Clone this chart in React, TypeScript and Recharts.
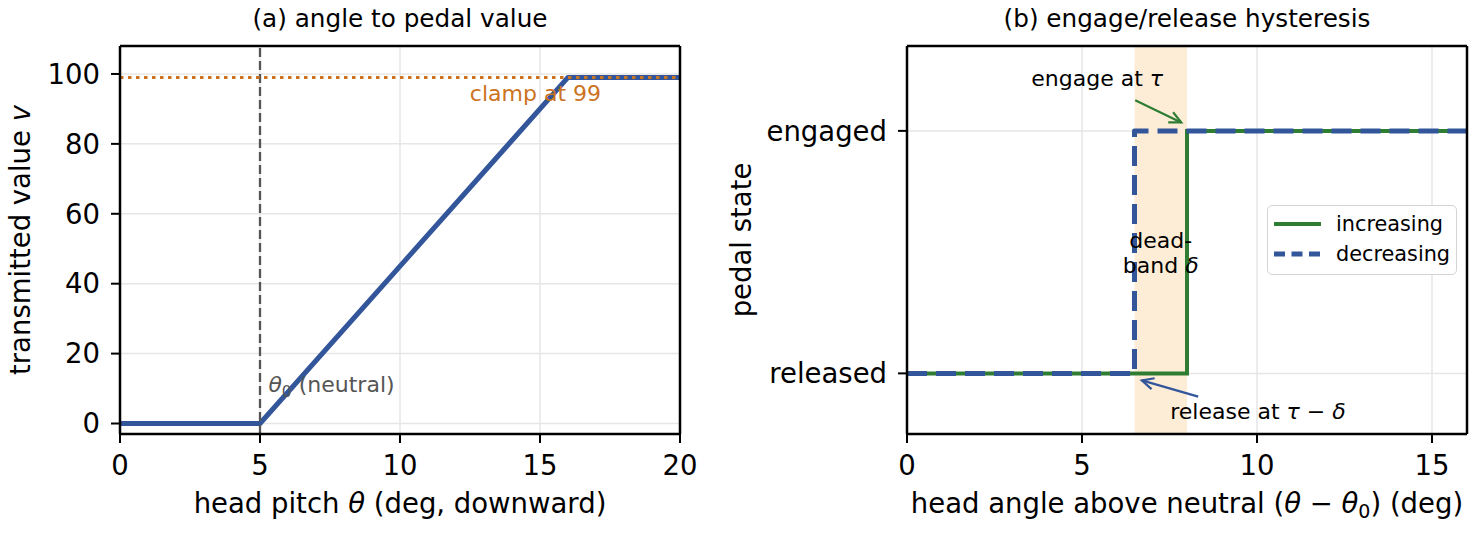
import {
  LineChart, Line, XAxis, YAxis, CartesianGrid, ReferenceLine,
  ReferenceArea, ReferenceDot, Legend,
} from 'recharts';

// panel (a): transmitted value against head pitch
const THETA = [0, 5, 16, 20];
const VALUE = [0, 0, 99, 99];
const A_X_DOMAIN = [0, 20];
const A_Y_DOMAIN = [-3, 108];
const A_X_TICKS = [0, 5, 10, 15, 20];
const A_Y_TICKS = [0, 20, 40, 60, 80, 100];
const NEUTRAL = 5;
const CLAMP = 99;

// panel (b): hysteresis, increasing and decreasing sweeps
const SERIES = ['increasing', 'decreasing'];
const INC_X = [0, 8, 8, 16];
const INC_Y = [0, 0, 1, 1];
const DEC_X = [0, 6.5, 6.5, 16];
const DEC_Y = [0, 0, 1, 1];
const B_X_DOMAIN = [0, 16];
const B_Y_DOMAIN = [-0.25, 1.35];
const B_X_TICKS = [0, 5, 10, 15];
const STATE_TICKS = [0, 1];
const STATE_LABELS = ['released', 'engaged'];
const TAU = 8;
const DELTA = 1.5;

const FONT = 'DejaVu Sans';
const BLUE = '#33569b';
const GREEN = '#2e7d32';
const ORANGE = '#cc7322';
const GREY = '#555555';

const dataA = THETA.map((x, i) => ({ x, v: VALUE[i] }));
const dataInc = INC_X.map((x, i) => ({ x, s: INC_Y[i] }));
const dataDec = DEC_X.map((x, i) => ({ x, s: DEC_Y[i] }));

const tickStyle = { fontSize: 27.5, fill: '#000', fontFamily: FONT };
const axisLine = { stroke: '#000', strokeWidth: 2.5 };
const tickLine = { stroke: '#000', strokeWidth: 2 };

const XLabel = (children: any) => (props: any) => {
  const vb = props.viewBox || {};
  const x = (vb.x ?? 0) + (vb.width ?? 0) / 2;
  const y = (vb.y ?? 434) + 79;
  return (
    <text x={x} y={y} textAnchor="middle" fontSize={27.5} fontFamily={FONT} fill="#000">
      {children}
    </text>
  );
};

const YLabel = (children: any, dx: number) => (props: any) => {
  const vb = props.viewBox || {};
  const x = (vb.x ?? 0) + dx;
  const y = (vb.y ?? 46) + (vb.height ?? 388) / 2;
  return (
    <text x={x} y={y} transform={`rotate(-90 ${x} ${y})`} textAnchor="middle"
      fontSize={27.5} fontFamily={FONT} fill="#000">
      {children}
    </text>
  );
};

const arrow = (color: string) => (p: any) => {
  const { x1, y1, x2, y2 } = p;
  const a = Math.atan2(y2 - y1, x2 - x1);
  const L = 13;
  const w = 0.45;
  const h1 = [x2 - L * Math.cos(a - w), y2 - L * Math.sin(a - w)];
  const h2 = [x2 - L * Math.cos(a + w), y2 - L * Math.sin(a + w)];
  return (
    <g>
      <line x1={x1} y1={y1} x2={x2} y2={y2} stroke={color} strokeWidth={2.2} />
      <polyline points={`${h1[0]},${h1[1]} ${x2},${y2} ${h2[0]},${h2[1]}`}
        fill="none" stroke={color} strokeWidth={2.2} />
    </g>
  );
};

const note = (render: (cx: number, cy: number) => any) => (p: any) => render(p.cx, p.cy);

const LegendBox = (props: any) => {
  const items = [...(props.payload || [])].sort(
    (a: any, b: any) => SERIES.indexOf(a.value) - SERIES.indexOf(b.value),
  );
  return (
    <div style={{
      width: 190, height: 70, boxSizing: 'border-box', border: '1.5px solid #d4d4d4',
      borderRadius: 5, background: 'rgba(255,255,255,0.9)', fontFamily: FONT,
      fontSize: 20.8, position: 'relative',
    }}>
      {items.map((it: any, i: number) => (
        <div key={it.value} style={{ position: 'absolute', left: 0, top: 4 + i * 30, height: 28, display: 'flex', alignItems: 'center' }}>
          <svg width={60} height={28} style={{ display: 'block' }}>
            <line x1={6} x2={53} y1={14} y2={14} stroke={it.color} strokeWidth={i === 0 ? 4 : 5}
              strokeDasharray={it.payload?.strokeDasharray ? '11 6.5' : undefined} />
          </svg>
          <span style={{ marginLeft: 8, color: '#000' }}>{it.value}</span>
        </div>
      ))}
    </div>
  );
};

function PanelA() {
  return (
    <LineChart width={739} height={533} data={dataA} margin={{ top: 46, right: 59, left: 0, bottom: 0 }}>
      <CartesianGrid stroke="#e6e6e6" strokeWidth={1.5} />
      <XAxis dataKey="x" type="number" domain={A_X_DOMAIN} ticks={A_X_TICKS} allowDataOverflow
        height={99} tickSize={9} tickMargin={12} tick={tickStyle} axisLine={axisLine} tickLine={tickLine}
        label={XLabel(<>head pitch <tspan fontStyle="italic">θ</tspan> (deg, downward)</>)} />
      <YAxis type="number" domain={A_Y_DOMAIN} ticks={A_Y_TICKS} allowDataOverflow
        width={120} tickSize={9} tickMargin={11} tick={tickStyle} axisLine={axisLine} tickLine={tickLine}
        label={YLabel(<>transmitted value <tspan fontStyle="italic">v</tspan></>, 30)} />
      <Line dataKey="v" type="linear" stroke={BLUE} strokeWidth={5} dot={false}
        strokeLinejoin="round" isAnimationActive={false} />
      <ReferenceLine x={NEUTRAL} stroke={GREY} strokeWidth={2.3} strokeDasharray="9 4" />
      <ReferenceLine y={CLAMP} stroke={ORANGE} strokeWidth={3} strokeDasharray="3.5 4.5" />
      <ReferenceLine x={A_X_DOMAIN[1]} stroke="#000" strokeWidth={2.5} />
      <ReferenceLine y={A_Y_DOMAIN[1]} stroke="#000" strokeWidth={2.5} />
      <ReferenceDot x={5.3} y={8.9} r={0} shape={note((cx, cy) => (
        <text x={cx} y={cy} fontSize={22} fontFamily={FONT} fill={GREY}>
          <tspan fontStyle="italic">θ</tspan>
          <tspan fontSize={15.5} dy={5}>0</tspan>
          <tspan dy={-5}>{' (neutral)'}</tspan>
        </text>
      ))} />
      <ReferenceDot x={17.18} y={92.3} r={0} shape={note((cx, cy) => (
        <text x={cx} y={cy} fontSize={22} fontFamily={FONT} fill={ORANGE} textAnchor="end">
          clamp at 99
        </text>
      ))} />
    </LineChart>
  );
}

function PanelB() {
  return (
    <LineChart width={778} height={533} margin={{ top: 46, right: 11, left: 0, bottom: 0 }}>
      <CartesianGrid stroke="#e6e6e6" strokeWidth={1.5} />
      <ReferenceArea x1={TAU - DELTA} x2={TAU} fill="#feedd6" fillOpacity={1} stroke="none" />
      <XAxis dataKey="x" type="number" domain={B_X_DOMAIN} ticks={B_X_TICKS} allowDataOverflow
        height={99} tickSize={9} tickMargin={12} tick={tickStyle} axisLine={axisLine} tickLine={tickLine}
        label={XLabel(<>head angle above neutral (<tspan fontStyle="italic">θ</tspan>{' − '}<tspan fontStyle="italic">θ</tspan><tspan fontSize={19} dy={5}>0</tspan><tspan dy={-5}>) (deg)</tspan></>)} />
      <YAxis type="number" domain={B_Y_DOMAIN} ticks={STATE_TICKS} allowDataOverflow
        tickFormatter={(v) => STATE_LABELS[v]}
        width={207} tickSize={9} tickMargin={11} tick={tickStyle} axisLine={axisLine} tickLine={tickLine}
        label={YLabel('pedal state', 51)} />
      <Line data={dataInc} dataKey="s" name={SERIES[0]} type="linear" stroke={GREEN} strokeWidth={4}
        dot={false} isAnimationActive={false} />
      <Line data={dataDec} dataKey="s" name={SERIES[1]} type="linear" stroke={BLUE} strokeWidth={5}
        strokeDasharray="20 9" strokeLinejoin="round" dot={false} isAnimationActive={false} />
      <ReferenceLine x={B_X_DOMAIN[1]} stroke="#000" strokeWidth={2.5} />
      <ReferenceLine y={B_Y_DOMAIN[1]} stroke="#000" strokeWidth={2.5} />
      <ReferenceLine segment={[{ x: 6.52, y: 1.126 }, { x: 7.835, y: 1.035 }]} shape={arrow(GREEN)} />
      <ReferenceLine segment={[{ x: 8.32, y: -0.096 }, { x: 6.71, y: -0.029 }]} shape={arrow(BLUE)} />
      <ReferenceDot x={3.55} y={1.184} r={0} shape={note((cx, cy) => (
        <text x={cx} y={cy} fontSize={22} fontFamily={FONT} fill="#000">
          engage at <tspan fontStyle="italic">τ</tspan>
        </text>
      ))} />
      <ReferenceDot x={7.52} y={-0.187} r={0} shape={note((cx, cy) => (
        <text x={cx} y={cy} fontSize={22} fontFamily={FONT} fill="#000">
          release at <tspan fontStyle="italic">τ</tspan>{' − '}<tspan fontStyle="italic">δ</tspan>
        </text>
      ))} />
      <ReferenceDot x={(TAU * 2 - DELTA) / 2} y={0.5} r={0} shape={note((cx, cy) => (
        <text x={cx} y={cy} fontSize={22} fontFamily={FONT} fill="#000" textAnchor="middle">
          <tspan x={cx} dy={-4}>dead-</tspan>
          <tspan x={cx} dy={25}>band <tspan fontStyle="italic">δ</tspan></tspan>
        </text>
      ))} />
      <Legend layout="vertical" align="center" verticalAlign="middle" content={LegendBox}
        wrapperStyle={{ left: 567, top: 205, width: 190, height: 70 }} />
    </LineChart>
  );
}

export default function App() {
  return (
    <div style={{ position: 'fixed', left: 0, top: 0, width: 1478, height: 533, background: '#fff', fontFamily: FONT }}>
      <div style={{ position: 'absolute', left: 0, top: 0 }}><PanelA /></div>
      <div style={{ position: 'absolute', left: 700, top: 0 }}><PanelB /></div>
      <svg width={1478} height={533} style={{ position: 'absolute', left: 0, top: 0, pointerEvents: 'none' }}>
        <text x={400} y={27} textAnchor="middle" fontSize={24.7} fontFamily={FONT}>(a) angle to pedal value</text>
        <text x={1187} y={27} textAnchor="middle" fontSize={24.7} fontFamily={FONT}>(b) engage/release hysteresis</text>
      </svg>
    </div>
  );
}
